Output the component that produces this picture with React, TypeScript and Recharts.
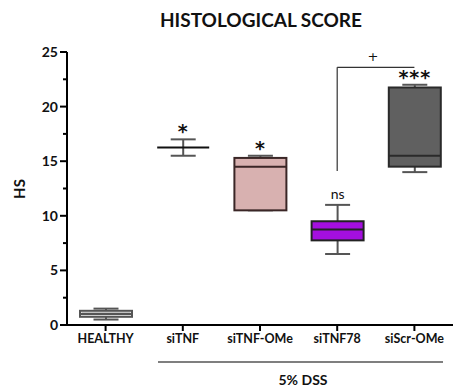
import React from "react";
import { ComposedChart, Bar, XAxis, YAxis, ReferenceLine, Customized } from "recharts";

// box plot values
const groups = ["HEALTHY", "siTNF", "siTNF-OMe", "siTNF78", "siScr-OMe"];
const mins = [0.5, 15.5, 10.5, 6.5, 14];
const q1s = [0.75, 16.25, 10.5, 7.75, 14.5];
const medians = [1.0, 16.25, 14.5, 8.75, 15.5];
const q3s = [1.3, 16.25, 15.3, 9.5, 21.75];
const maxs = [1.5, 17, 15.5, 11, 22];
const marks = ["", "*", "*", "ns", "***"];
const yTicks = [0, 2.5, 5, 7.5, 10, 12.5, 15, 17.5, 20, 22.5, 25];

const fills = ["#ffffff", "none", "#d8b1b0", "#a40fdf", "#606060"];
const strokes = ["#555555", "#222222", "#3a2626", "#222222", "#2a2a2a"];

const FONT = "Lato, 'Open Sans', sans-serif";

const data = groups.map((g, i) => ({
  name: g,
  min: mins[i],
  q1: q1s[i],
  median: medians[i],
  q3: q3s[i],
  max: maxs[i],
  mark: marks[i],
  idx: i,
}));

function BoxShape(props: any) {
  const { x, y, width, height, payload } = props;
  const { min, max, q1, q3, median, mark, idx } = payload;
  // y is the pixel for max, y + height is pixel for min
  const py = (v: number) => y + (height * (max - v)) / (max - min);
  const cx = x + width / 2;
  const cap = 12.5;
  const whisker = "#555555";
  const stroke = strokes[idx];
  const isAst = mark.indexOf("*") >= 0;
  return (
    <g>
      <line x1={cx} x2={cx} y1={py(max)} y2={py(q3)} stroke={whisker} strokeWidth={2} />
      <line x1={cx} x2={cx} y1={py(q1)} y2={py(min)} stroke={whisker} strokeWidth={2} />
      <line x1={cx - cap} x2={cx + cap} y1={py(max)} y2={py(max)} stroke={whisker} strokeWidth={2} />
      <line x1={cx - cap} x2={cx + cap} y1={py(min)} y2={py(min)} stroke={whisker} strokeWidth={2} />
      {fills[idx] !== "none" && (
        <rect x={x} y={py(q3)} width={width} height={py(q1) - py(q3)} fill={fills[idx]} stroke={stroke} strokeWidth={2} />
      )}
      {idx === 0 && (
        <rect x={x + 2} y={py(q3) + 2} width={width - 4} height={py(q1) - py(q3) - 4} fill="none" stroke="#aaaaaa" strokeWidth={1} />
      )}
      <line x1={x} x2={x + width} y1={py(median)} y2={py(median)} stroke={idx === 1 ? "#111111" : stroke} strokeWidth={2} />
      {mark && (
        <text
          x={cx}
          y={py(max) + (isAst ? -1 : -6)}
          textAnchor="middle"
          fontFamily={isAst ? "'DejaVu Sans', sans-serif" : FONT}
          fontSize={isAst ? 19 : 14}
          fontWeight={isAst ? "bold" : "normal"}
          letterSpacing={isAst ? 1 : 0}
          fill="#111111"
        >
          {mark}
        </text>
      )}
    </g>
  );
}

function YTick(props: any) {
  const { x, y, payload } = props;
  const major = payload.value % 5 === 0;
  return (
    <g>
      <line x1={x - (major ? 7 : 4)} x2={x} y1={y} y2={y} stroke="#000" strokeWidth={2} />
      {major && (
        <text x={x - 9} y={y + 5} textAnchor="end" fontFamily={FONT} fontWeight="bold" fontSize={14} fill="#111">
          {payload.value}
        </text>
      )}
    </g>
  );
}

function XTick(props: any) {
  const { x, y, payload } = props;
  return (
    <text x={x} y={y + 10} textAnchor="middle" fontFamily={FONT} fontWeight="bold" fontSize={12.5} fill="#111">
      {payload.value}
    </text>
  );
}

function Extras() {
  return (
    <g fontFamily={FONT} fill="#111">
      <text x={261} y={27} textAnchor="middle" fontWeight="bold" fontSize={19}>
        HISTOLOGICAL SCORE
      </text>
      <text
        x={25}
        y={189}
        textAnchor="middle"
        fontWeight="bold"
        fontSize={15}
        transform="rotate(-90 25 189)"
      >
        HS
      </text>
      <line x1={158} x2={443} y1={362} y2={362} stroke="#000" strokeWidth={1.2} />
      <text x={303} y={385} textAnchor="middle" fontWeight="bold" fontSize={14}>
        5% DSS
      </text>
      <text x={373} y={61} textAnchor="middle" fontFamily="'DejaVu Sans', sans-serif" fontSize={13}>
        +
      </text>
    </g>
  );
}

export default function App() {
  return (
    <div style={{ position: "absolute", left: 0, top: 0, background: "#fff" }}>
      <ComposedChart
        width={453}
        height={390}
        data={data}
        margin={{ top: 52, right: 0, left: 0, bottom: 35 }}
        barCategoryGap={0}
      >
        <XAxis
          dataKey="name"
          axisLine={{ stroke: "#000", strokeWidth: 2 }}
          tickLine={{ stroke: "#000", strokeWidth: 2 }}
          tickSize={6}
          height={30}
          tick={<XTick />}
          interval={0}
        />
        <YAxis
          width={67}
          domain={[0, 25]}
          ticks={yTicks}
          interval={0}
          axisLine={{ stroke: "#000", strokeWidth: 2 }}
          tickLine={false}
          tickSize={0}
          tickMargin={0}
          tick={<YTick />}
        />
        <ReferenceLine
          segment={[
            { x: "siTNF78", y: 14.1 },
            { x: "siTNF78", y: 23.6 },
          ]}
          stroke="#333"
          strokeWidth={1.2}
        />
        <ReferenceLine
          segment={[
            { x: "siTNF78", y: 23.6 },
            { x: "siScr-OMe", y: 23.6 },
          ]}
          stroke="#333"
          strokeWidth={1.2}
        />
        <Bar
          dataKey={(d: any) => [d.min, d.max]}
          barSize={52}
          shape={<BoxShape />}
          isAnimationActive={false}
        />
        <Customized component={Extras} />
      </ComposedChart>
    </div>
  );
}
